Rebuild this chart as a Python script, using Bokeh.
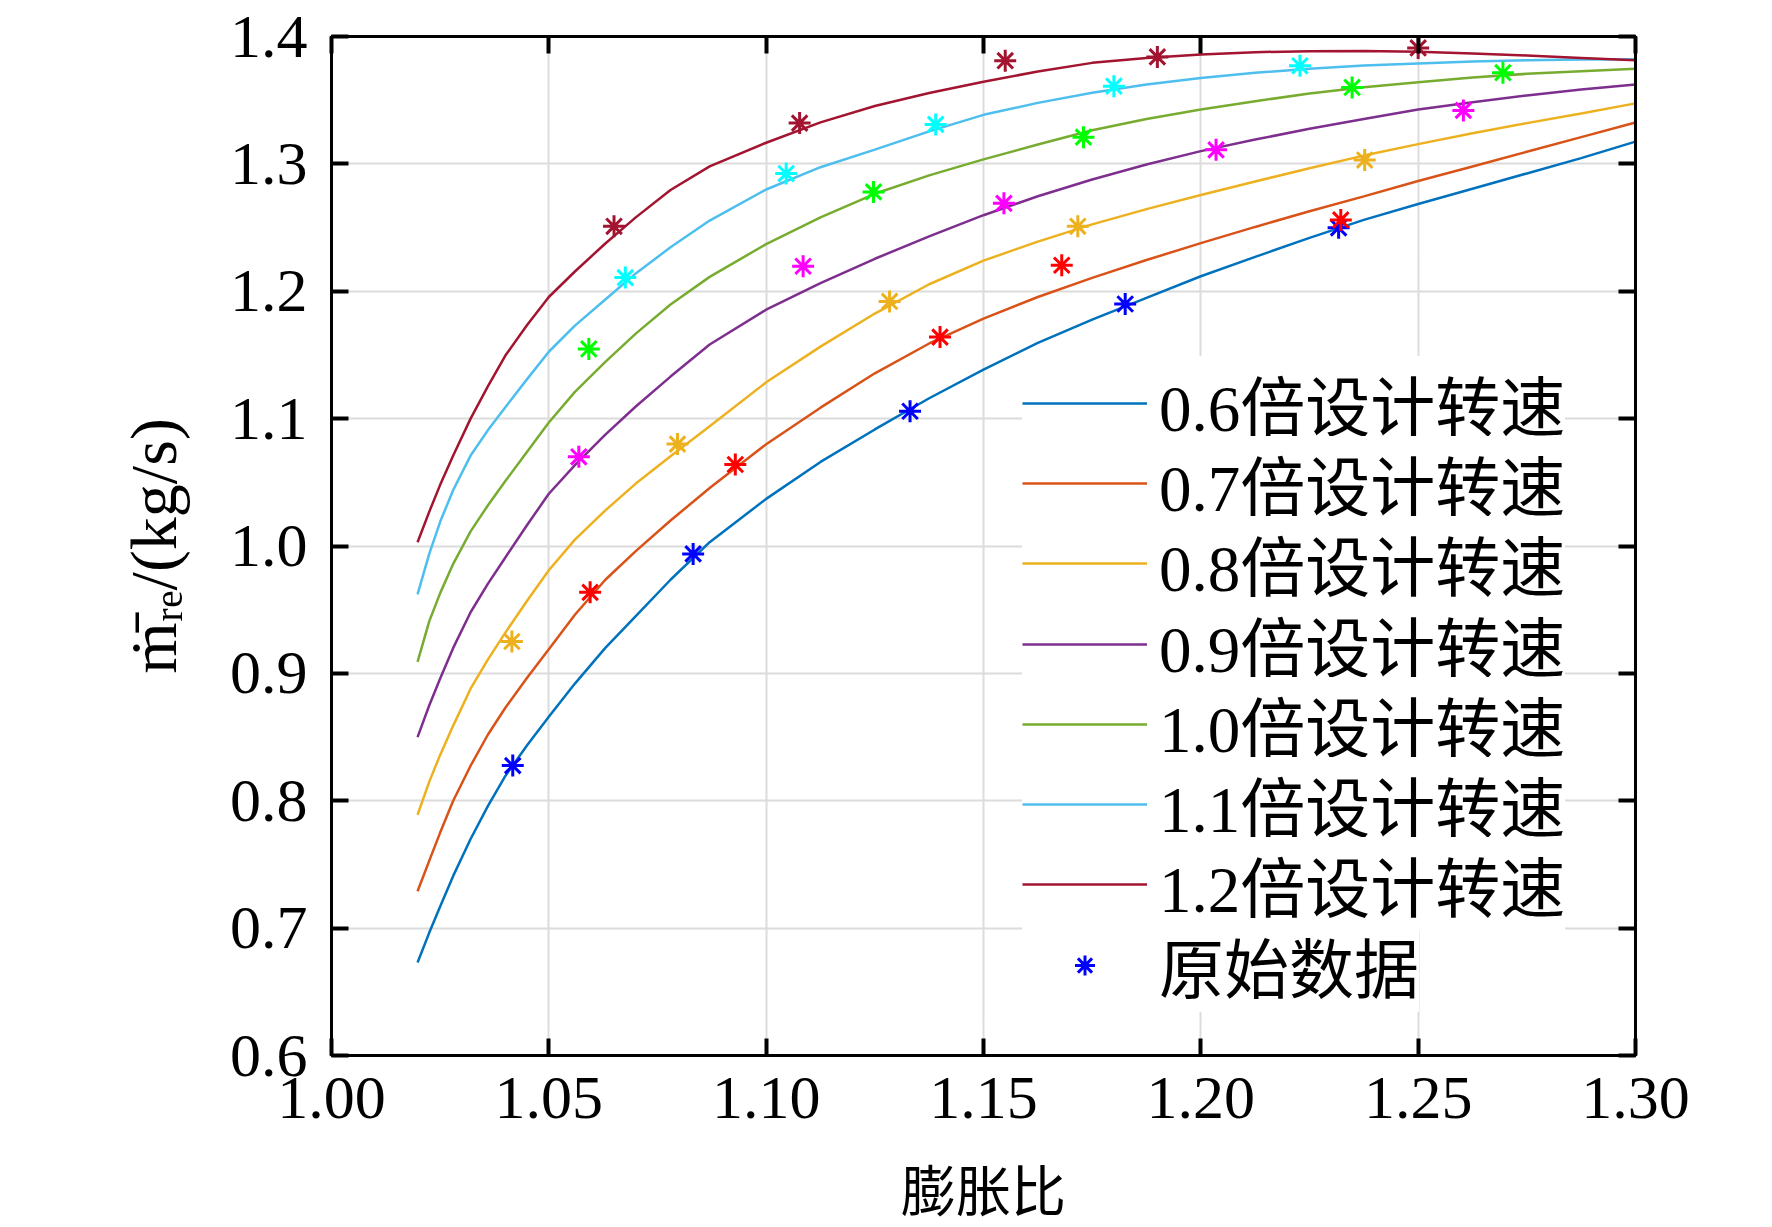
from bokeh.plotting import figure
from bokeh.layouts import column
from bokeh.models import (LinearAxis, FixedTicker, NumeralTickFormatter,
                          Legend, LegendItem)
from bokeh.core.properties import value
from bokeh.embed import file_html
from bokeh.resources import INLINE

SERIF = "'Liberation Serif', 'Noto Sans CJK SC'"
CJK = "'Noto Sans CJK SC'"
LABEL_FONT = "'Liberation Serif', 'DejaVu Serif', 'DejaVu Sans'"

x_ticks = [1.00, 1.05, 1.10, 1.15, 1.20, 1.25, 1.30]
y_ticks = [0.6, 0.7, 0.8, 0.9, 1.0, 1.1, 1.2, 1.3, 1.4]

speeds = ["0.6", "0.7", "0.8", "0.9", "1.0", "1.1", "1.2"]
line_colors = ["#0072BD", "#D95319", "#EDB120", "#7E2F8E", "#77AC30", "#4DBEEE", "#A2142F"]
star_colors = ["#0000FF", "#FF0000", "#EDB120", "#FF00FF", "#00FF00", "#00FFFF", "#A2142F"]

ratio_x = [1.0198, 1.0225, 1.025, 1.028, 1.032, 1.036, 1.040, 1.045, 1.050, 1.056,
           1.063, 1.070, 1.078, 1.087, 1.100, 1.1125, 1.125, 1.1375, 1.150, 1.1625,
           1.175, 1.1875, 1.200, 1.2125, 1.225, 1.2375, 1.250, 1.2625, 1.275, 1.2875, 1.300]

# fitted mass flow for each speed
flow_06 = [0.673, 0.6965, 0.717, 0.741, 0.770, 0.796, 0.8195, 0.8435, 0.866, 0.892,
           0.920, 0.945, 0.9735, 1.003, 1.037, 1.066, 1.0915, 1.116, 1.1385, 1.1594,
           1.1777, 1.1948, 1.2118, 1.227, 1.2419, 1.256, 1.2685, 1.2805, 1.2925, 1.3045, 1.3175]
flow_07 = [0.729, 0.753, 0.775, 0.800, 0.8275, 0.852, 0.873, 0.8965, 0.919, 0.946,
           0.9735, 0.996, 1.020, 1.0455, 1.0799, 1.1086, 1.1356, 1.159, 1.1785, 1.1955,
           1.2105, 1.2245, 1.2378, 1.2505, 1.2628, 1.2745, 1.2865, 1.298, 1.3095, 1.321, 1.3325]
flow_08 = [0.789, 0.815, 0.836, 0.859, 0.888, 0.911, 0.932, 0.957, 0.981, 1.005,
           1.028, 1.049, 1.0705, 1.094, 1.1285, 1.1565, 1.1825, 1.2055, 1.224, 1.239,
           1.2525, 1.2645, 1.2755, 1.2862, 1.2965, 1.3065, 1.3155, 1.324, 1.332, 1.3395, 1.3475]
flow_09 = [0.850, 0.875, 0.896, 0.920, 0.948, 0.9705, 0.991, 1.0165, 1.041, 1.0635,
           1.0875, 1.1095, 1.133, 1.1582, 1.1855, 1.2063, 1.2255, 1.2431, 1.2597, 1.2746,
           1.2877, 1.2995, 1.310, 1.3191, 1.3275, 1.3353, 1.3427, 1.3484, 1.3537, 1.3584, 1.3623]
flow_10 = [0.909, 0.941, 0.963, 0.986, 1.0115, 1.032, 1.051, 1.074, 1.097, 1.121,
           1.1445, 1.1667, 1.1896, 1.2113, 1.237, 1.258, 1.2765, 1.291, 1.3035, 1.3152,
           1.3264, 1.3353, 1.3427, 1.3492, 1.3552, 1.3602, 1.3641, 1.3678, 1.3707, 1.3728, 1.3746]
flow_11 = [0.962, 0.994, 1.019, 1.044, 1.071, 1.091, 1.109, 1.131, 1.1525, 1.173,
           1.1935, 1.214, 1.2345, 1.2555, 1.2799, 1.2974, 1.3112, 1.3255, 1.3385, 1.3479,
           1.3558, 1.3623, 1.3675, 1.3715, 1.3746, 1.3772, 1.3788, 1.3804, 1.3814, 1.3819, 1.3822]
flow_12 = [1.003, 1.027, 1.048, 1.071, 1.100, 1.1255, 1.1495, 1.1735, 1.1955, 1.2155,
           1.2375, 1.258, 1.2795, 1.298, 1.3166, 1.3326, 1.3454, 1.3556, 1.3645, 1.3725,
           1.3793, 1.3832, 1.3859, 1.3877, 1.3885, 1.3886, 1.388, 1.3867, 1.3851, 1.3832, 1.3814]

# original data points
star_x_06 = [1.0417, 1.0832, 1.1331, 1.1826, 1.2317]
star_y_06 = [0.8276, 0.9938, 1.1058, 1.190, 1.2498]
star_x_07 = [1.0595, 1.0929, 1.140, 1.168, 1.2322]
star_y_07 = [0.9636, 1.064, 1.164, 1.2204, 1.256]
star_x_08 = [1.0415, 1.0796, 1.1284, 1.1717, 1.2377]
star_y_08 = [0.925, 1.080, 1.192, 1.251, 1.303]
star_x_09 = [1.0569, 1.1085, 1.1547, 1.2035, 1.2604]
star_y_09 = [1.070, 1.2196, 1.269, 1.311, 1.342]
star_x_10 = [1.0592, 1.1247, 1.173, 1.2348, 1.2695]
star_y_10 = [1.1547, 1.278, 1.321, 1.360, 1.3716]
star_x_11 = [1.0676, 1.1046, 1.139, 1.180, 1.2228]
star_y_11 = [1.2107, 1.2924, 1.331, 1.361, 1.377]
star_x_12 = [1.065, 1.1077, 1.155, 1.190, 1.250]
star_y_12 = [1.251, 1.332, 1.381, 1.384, 1.391]

flows = [flow_06, flow_07, flow_08, flow_09, flow_10, flow_11, flow_12]
stars = [(star_x_06, star_y_06), (star_x_07, star_y_07), (star_x_08, star_y_08),
         (star_x_09, star_y_09), (star_x_10, star_y_10), (star_x_11, star_y_11),
         (star_x_12, star_y_12)]

# vertical centre of each legend row, in page pixels from the top
legend_rows = [403, 483, 563, 644, 724, 804, 884, 965]


def style_axis(axis, ticks, fmt, show_labels=True):
    axis.ticker = FixedTicker(ticks=ticks)
    axis.formatter = NumeralTickFormatter(format=fmt)
    axis.axis_line_color = "black"
    axis.axis_line_width = 3
    axis.major_tick_in = 17
    axis.major_tick_out = 0
    axis.major_tick_line_width = 4
    axis.major_tick_line_color = "black"
    axis.minor_tick_line_color = None
    axis.major_label_text_font = "Liberation Serif"
    axis.major_label_text_font_size = "62px"
    axis.major_label_text_color = "black"
    if not show_labels:
        axis.major_label_overrides = {t: "" for t in ticks}


FRAME_LEFT = 331
FRAME_RIGHT = 1635
FRAME_BOTTOM = 1055
TOP_H = 1146
ITEM_H = 94

p = figure(width=1772, height=TOP_H, x_range=(1.0, 1.3), y_range=(0.6, 1.4),
           title=None, output_backend="svg", toolbar_location=None,
           min_border_left=FRAME_LEFT, min_border_right=1772 - FRAME_RIGHT,
           min_border_top=36, min_border_bottom=TOP_H - FRAME_BOTTOM)

style_axis(p.xaxis[0], x_ticks, "0.00")
style_axis(p.yaxis[0], y_ticks, "0.0")
p.xaxis.major_label_standoff = 22
p.yaxis.major_label_standoff = 24

# y axis title: m with dot and bar, subscript re, then /(kg/s)
p.yaxis.axis_label = "m\u0307\u0304\u1d63\u2091/(kg/s)"
p.yaxis.axis_label_text_font = LABEL_FONT
p.yaxis.axis_label_text_font_style = "normal"
p.yaxis.axis_label_text_font_size = "66px"
p.yaxis.axis_label_text_color = "black"
p.yaxis.axis_label_standoff = 37

top = LinearAxis()
style_axis(top, x_ticks, "0.00", show_labels=False)
p.add_layout(top, "above")
right = LinearAxis()
style_axis(right, y_ticks, "0.0", show_labels=False)
p.add_layout(right, "right")

p.grid.grid_line_color = "#dcdcdc"
p.grid.grid_line_width = 2
p.outline_line_color = "black"
p.outline_line_width = 3

line_renderers = []
for ys, c in zip(flows, line_colors):
    line_renderers.append(p.line(ratio_x, ys, line_color=c, line_width=2.5))

star_renderers = []
for (xs, ys), c in zip(stars, star_colors):
    star_renderers.append(p.scatter(xs, ys, marker="asterisk", size=22,
                                    line_color=c, line_width=3))

items = [LegendItem(label=f"{s}倍设计转速", renderers=[r])
         for s, r in zip(speeds, line_renderers)]
items.append(LegendItem(label="原始数据", renderers=[star_renderers[0]]))

# one legend per row so the rows can sit closer than the CJK line height
for item, centre in zip(items, legend_rows):
    legend = Legend(items=[item], location=(691, FRAME_BOTTOM - centre - ITEM_H // 2),
                    padding=0, spacing=0, margin=0,
                    border_line_color=None, background_fill_color="white",
                    background_fill_alpha=1.0, glyph_width=125, glyph_height=50,
                    label_height=ITEM_H, label_standoff=12, label_text_font=SERIF,
                    label_text_font_size="65px", label_text_color="black")
    p.add_layout(legend)

# x axis title, in its own strip under the chart. The column lines this
# strip's frame up with the chart frame, so its x range is in page pixels
# between the two frame edges.
BOT_H = 1227 - TOP_H
xlab = figure(width=1772, height=BOT_H, x_range=(FRAME_LEFT, FRAME_RIGHT),
              y_range=(0, BOT_H), title=None, output_backend="svg",
              toolbar_location=None, x_axis_location=None, y_axis_location=None,
              min_border=0)
xlab.grid.visible = False
xlab.outline_line_color = None
xlab.text(x=[(FRAME_LEFT + FRAME_RIGHT) / 2], y=[BOT_H / 2], text=["膨胀比"],
          text_font=value(CJK), text_font_size="55px", text_align="center",
          text_baseline="middle", text_color="black")

layout = column(p, xlab)
open("out.html", "w").write(file_html(layout, INLINE))
